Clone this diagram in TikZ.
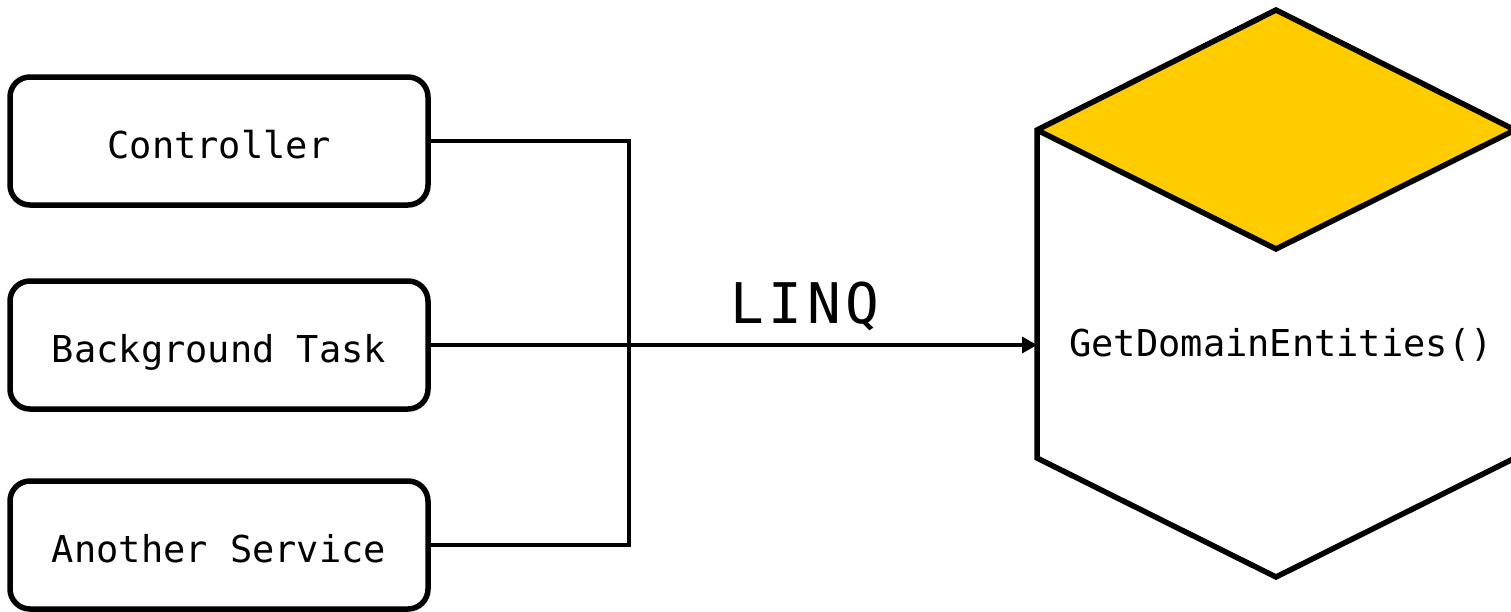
\documentclass[tikz,border=0pt]{standalone}
\usepackage{fontspec}
\usetikzlibrary{arrows.meta}
\newfontfamily\boxmono{DejaVu Sans Mono}
\newfontfamily\linqmono{DejaVu Sans Mono}[LetterSpace=8]
\definecolor{topyellow}{HTML}{FFCC00}
\begin{document}
\begin{tikzpicture}[x=1pt,y=-1pt,
  srcbox/.style={draw=black, line width=5.5pt, rounded corners=20pt, fill=white,
    minimum width=418pt, minimum height=128pt, inner sep=0pt,
    text height=40pt, text depth=6pt,
    font=\boxmono\fontsize{37}{44}\selectfont},
  conn/.style={line width=3.5pt, black},
  hexedge/.style={line width=5.5pt, line join=miter, black},
  lbl/.style={inner sep=0pt, anchor=base, font=\linqmono\fontsize{56}{64}\selectfont},
  hexlbl/.style={inner sep=0pt, anchor=base, font=\boxmono\fontsize{37}{44}\selectfont}]
\useasboundingbox (0,0) rectangle (1511,611);
% source boxes
\node[srcbox] (ctrl) at (219,141) {Controller};
\node[srcbox] (bg) at (219,345) {Background Task};
\node[srcbox] (svc) at (219,545) {Another Service};
% hexagon vertices
\coordinate (hLT) at (1037,130);
\coordinate (hT) at (1276,10);
\coordinate (hRT) at (1515,130);
\coordinate (hC) at (1276,249);
\coordinate (hRB) at (1515,458);
\coordinate (hB) at (1276,577);
\coordinate (hLB) at (1037,458);
\coordinate (hL) at (1037,345);
\coordinate (jx) at (629,0);
% hexagon
\fill[white] (hLT) -- (hT) -- (hRT) -- (hRB) -- (hB) -- (hLB) -- cycle;
\fill[topyellow] (hLT) -- (hT) -- (hRT) -- (hC) -- cycle;
\draw[hexedge] (hLT) -- (hT) -- (hRT) -- (hRB) -- (hB) -- (hLB) -- cycle;
\draw[hexedge] (hLT) -- (hC) -- (hRT);
\node[hexlbl] (getde) at (1281,356) {GetDomainEntities()};
% connectors
\draw[conn, line join=miter] (ctrl.east) -- (ctrl.east -| jx) -- (svc.east -| jx) -- (svc.east);
\draw[conn, -{Triangle[length=15pt,width=16pt]}] (bg.east) -- (hL);
\node[lbl] (linq) at (805,323) {LINQ};
\end{tikzpicture}
\end{document}
